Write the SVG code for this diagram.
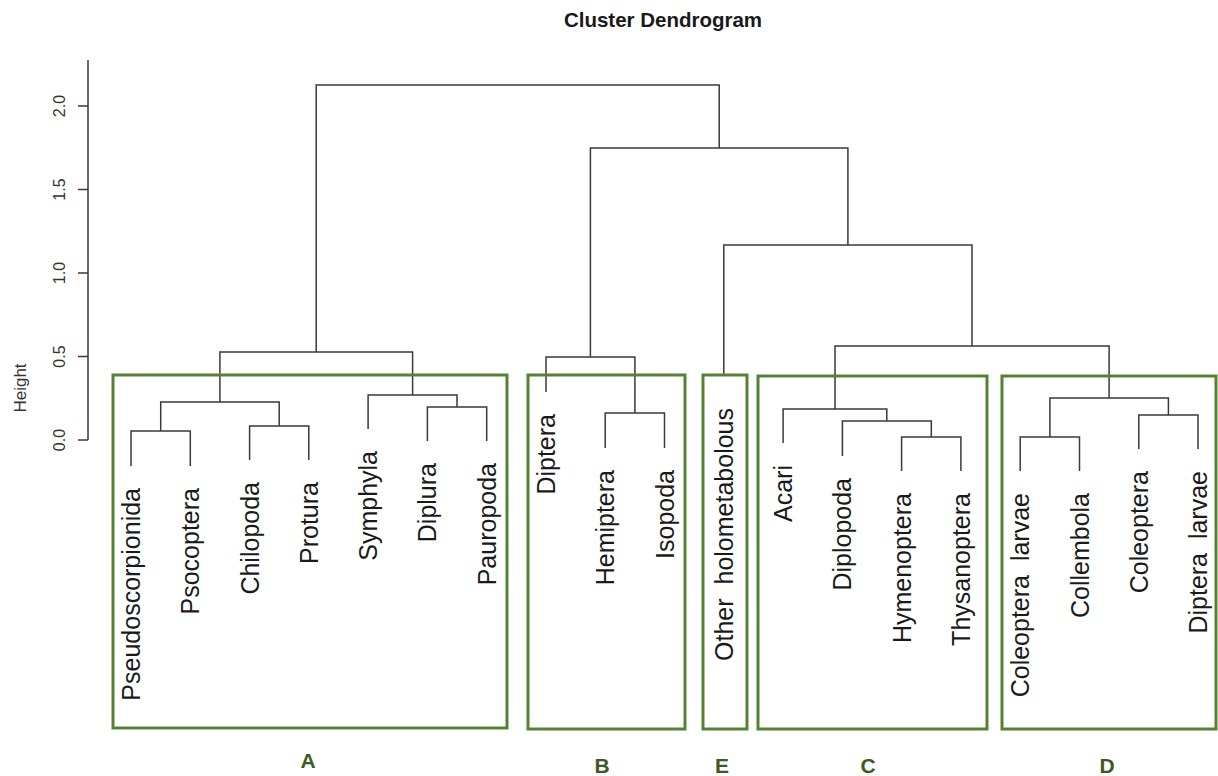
<svg xmlns="http://www.w3.org/2000/svg" width="1218" height="776" viewBox="0 0 1218 776">
  <style>
    .bg { fill: #ffffff; }
    .title { font-family: "Liberation Sans", Arial, sans-serif; font-weight: bold; font-size: 20.5px; fill: #1a1a1a; }
    .axis { stroke: #3a3a3a; stroke-width: 1.5; fill: none; }
    .tick { font-family: "Liberation Sans", Arial, sans-serif; font-size: 16px; fill: #333333; }
    .ylab { font-family: "Liberation Sans", Arial, sans-serif; font-size: 17px; fill: #333333; }
    .branch { stroke: #3a3a3a; stroke-width: 1.5; fill: none; }
    .leaf { font-family: "Liberation Sans", Arial, sans-serif; font-size: 25px; fill: #1a1a1a; white-space: pre; }
    .box { fill: none; stroke: #548235; stroke-width: 3; }
    .grp { font-family: "Liberation Sans", Arial, sans-serif; font-weight: bold; font-size: 21px; fill: #3b5a24; text-anchor: middle; }
  </style>

  <rect class="bg" x="0" y="0" width="1218" height="776"/>

  <text class="title" x="663" y="27" text-anchor="middle">Cluster Dendrogram</text>

  <!-- height axis -->
  <g id="axis">
    <path class="axis" d="M88,60 V440 M78,440 H88 M78,356.5 H88 M78,273 H88 M78,189.5 H88 M78,106 H88"/>
    <text class="tick" transform="translate(65,440) rotate(-90)" text-anchor="middle">0.0</text>
    <text class="tick" transform="translate(65,356.5) rotate(-90)" text-anchor="middle">0.5</text>
    <text class="tick" transform="translate(65,273) rotate(-90)" text-anchor="middle">1.0</text>
    <text class="tick" transform="translate(65,189.5) rotate(-90)" text-anchor="middle">1.5</text>
    <text class="tick" transform="translate(65,106) rotate(-90)" text-anchor="middle">2.0</text>
    <text class="ylab" transform="translate(26,388) rotate(-90)" text-anchor="middle">Height</text>
  </g>

  <!-- merge branches -->
  <g id="connectors">
    <path class="branch" d="M131,466 V431 H190.3 V466"/>
    <path class="branch" d="M249.6,460 V426 H308.8 V460"/>
    <path class="branch" d="M160.7,431 V402 H279.2 V426"/>
    <path class="branch" d="M427.4,441 V407 H486.7 V441"/>
    <path class="branch" d="M368.1,429 V395 H457 V407"/>
    <path class="branch" d="M219.9,402 V352 H412.6 V395"/>
    <path class="branch" d="M605.2,448 V413 H664.5 V448"/>
    <path class="branch" d="M546,392 V357 H634.9 V413"/>
    <path class="branch" d="M901.6,471 V437 H960.9 V471"/>
    <path class="branch" d="M842.4,456 V421 H931.3 V437"/>
    <path class="branch" d="M783.1,443 V409 H886.8 V421"/>
    <path class="branch" d="M1020.2,471 V437 H1079.5 V471"/>
    <path class="branch" d="M1138.8,449 V415 H1198 V449"/>
    <path class="branch" d="M1049.9,437 V398 H1168.4 V415"/>
    <path class="branch" d="M835,409 V346 H1109.1 V398"/>
    <path class="branch" d="M723.8,374 V245 H972 V346"/>
    <path class="branch" d="M590.4,357 V148 H847.9 V245"/>
    <path class="branch" d="M316.2,352 V85 H719.2 V148"/>
  </g>

  <!-- leaf labels -->
  <g id="leaf-pseudoscorpionida"><text class="leaf" transform="translate(140,488) rotate(-90)" text-anchor="end">Pseudoscorpionida</text></g>
  <g id="leaf-psocoptera"><text class="leaf" transform="translate(199.3,488) rotate(-90)" text-anchor="end">Psocoptera</text></g>
  <g id="leaf-chilopoda"><text class="leaf" transform="translate(258.6,482) rotate(-90)" text-anchor="end">Chilopoda</text></g>
  <g id="leaf-protura"><text class="leaf" transform="translate(317.8,482) rotate(-90)" text-anchor="end">Protura</text></g>
  <g id="leaf-symphyla"><text class="leaf" transform="translate(377.1,451) rotate(-90)" text-anchor="end">Symphyla</text></g>
  <g id="leaf-diplura"><text class="leaf" transform="translate(436.4,463) rotate(-90)" text-anchor="end">Diplura</text></g>
  <g id="leaf-pauropoda"><text class="leaf" transform="translate(495.7,463) rotate(-90)" text-anchor="end">Pauropoda</text></g>
  <g id="leaf-diptera"><text class="leaf" transform="translate(555,414) rotate(-90)" text-anchor="end">Diptera</text></g>
  <g id="leaf-hemiptera"><text class="leaf" transform="translate(614.2,470) rotate(-90)" text-anchor="end">Hemiptera</text></g>
  <g id="leaf-isopoda"><text class="leaf" transform="translate(673.5,470) rotate(-90)" text-anchor="end">Isopoda</text></g>
  <g id="leaf-other-holometabolous"><text class="leaf" xml:space="preserve" transform="translate(732.8,408) rotate(-90)" text-anchor="end">Other  holometabolous</text></g>
  <g id="leaf-acari"><text class="leaf" transform="translate(792.1,465) rotate(-90)" text-anchor="end">Acari</text></g>
  <g id="leaf-diplopoda"><text class="leaf" transform="translate(851.4,478) rotate(-90)" text-anchor="end">Diplopoda</text></g>
  <g id="leaf-hymenoptera"><text class="leaf" transform="translate(910.6,493) rotate(-90)" text-anchor="end">Hymenoptera</text></g>
  <g id="leaf-thysanoptera"><text class="leaf" transform="translate(969.9,493) rotate(-90)" text-anchor="end">Thysanoptera</text></g>
  <g id="leaf-coleoptera-larvae"><text class="leaf" xml:space="preserve" transform="translate(1029.2,493) rotate(-90)" text-anchor="end">Coleoptera  larvae</text></g>
  <g id="leaf-collembola"><text class="leaf" transform="translate(1088.5,493) rotate(-90)" text-anchor="end">Collembola</text></g>
  <g id="leaf-coleoptera"><text class="leaf" transform="translate(1147.8,471) rotate(-90)" text-anchor="end">Coleoptera</text></g>
  <g id="leaf-diptera-larvae"><text class="leaf" xml:space="preserve" transform="translate(1207,471) rotate(-90)" text-anchor="end">Diptera  larvae</text></g>

  <!-- cluster frames and group letters -->
  <g id="cluster-A">
    <rect class="box" x="113" y="375" width="394" height="353"/>
    <text class="grp" x="308" y="768">A</text>
  </g>
  <g id="cluster-B">
    <rect class="box" x="528" y="375" width="157" height="354"/>
    <text class="grp" x="602" y="773">B</text>
  </g>
  <g id="cluster-E">
    <rect class="box" x="703" y="375" width="44" height="354"/>
    <text class="grp" x="722" y="773">E</text>
  </g>
  <g id="cluster-C">
    <rect class="box" x="758" y="376" width="229" height="353"/>
    <text class="grp" x="868" y="773">C</text>
  </g>
  <g id="cluster-D">
    <rect class="box" x="1002" y="376" width="214" height="353"/>
    <text class="grp" x="1107" y="773">D</text>
  </g>
</svg>
